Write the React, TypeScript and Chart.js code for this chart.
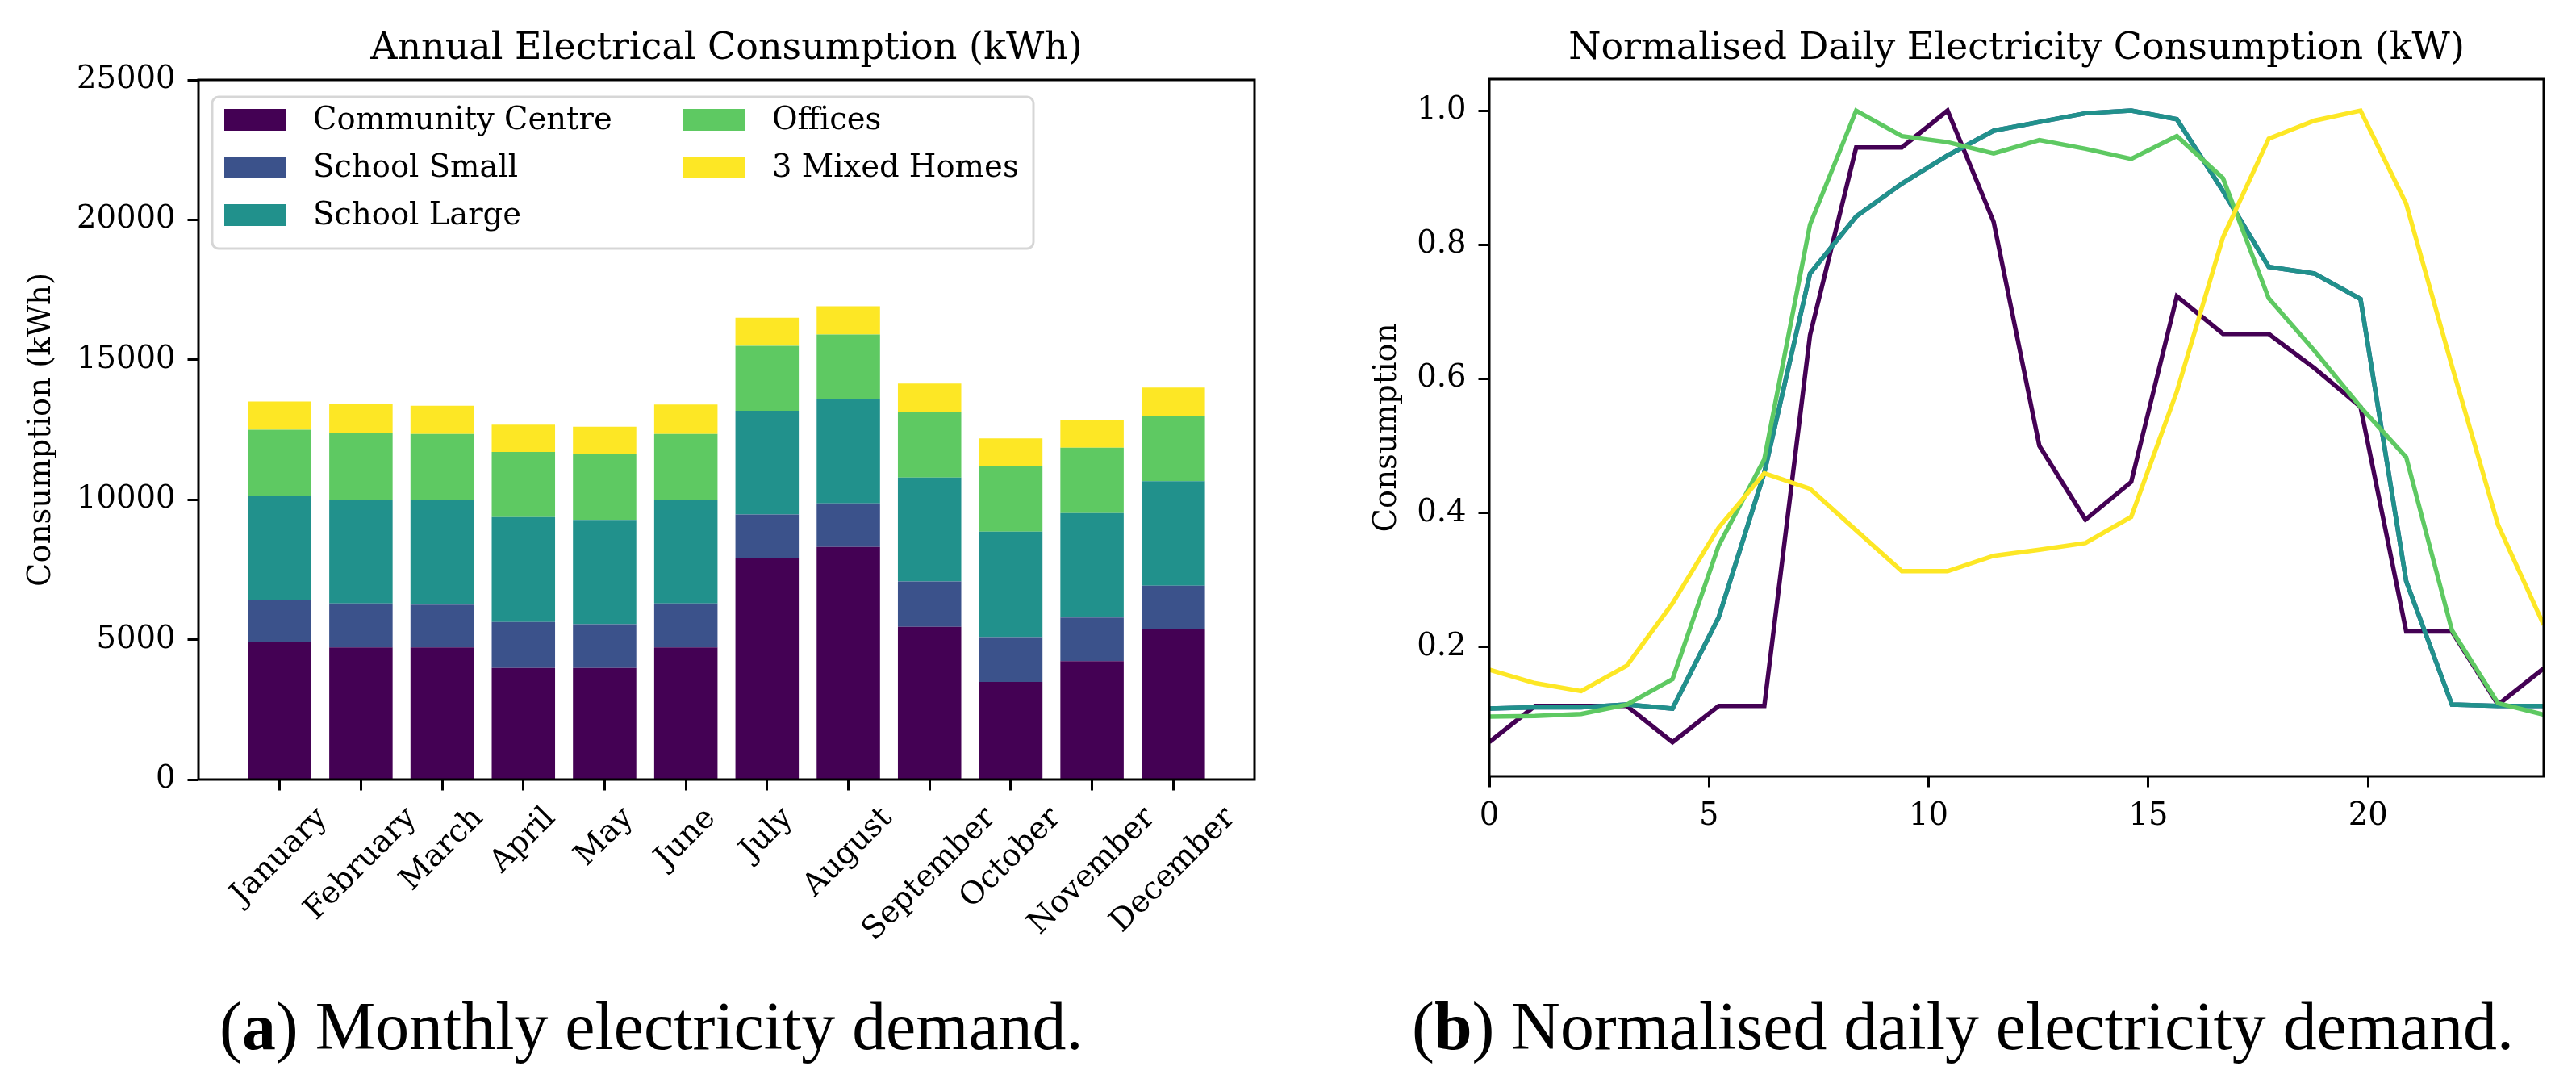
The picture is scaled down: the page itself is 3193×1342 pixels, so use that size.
import React, { useEffect, useRef } from 'react';
import { Chart, registerables } from 'chart.js';

Chart.register(...registerables);

// ---------------- data ----------------
const months = ['January', 'February', 'March', 'April', 'May', 'June', 'July', 'August', 'September', 'October', 'November', 'December'];
const seriesNames = ['Community Centre', 'School Small', 'School Large', 'Offices', '3 Mixed Homes'];
const seriesColors = ['#440154', '#3b528b', '#21918c', '#5ec962', '#fde725'];

const communityCentre = [4900, 4720, 4720, 3990, 3990, 4720, 7900, 8310, 5460, 3490, 4230, 5390];
const schoolSmall = [1530, 1570, 1530, 1640, 1560, 1570, 1570, 1560, 1620, 1600, 1560, 1540];
const schoolLarge = [3720, 3690, 3730, 3750, 3730, 3690, 3710, 3730, 3710, 3770, 3730, 3730];
const offices = [2350, 2390, 2370, 2330, 2360, 2370, 2320, 2300, 2350, 2350, 2340, 2340];
const mixedHomes = [1010, 1050, 1010, 970, 970, 1050, 1000, 1010, 1010, 980, 970, 1010];
const monthlyYTicks = [0, 5000, 10000, 15000, 20000, 25000];

const hours = [0, 1.04, 2.09, 3.13, 4.17, 5.22, 6.26, 7.3, 8.35, 9.39, 10.43, 11.48, 12.52, 13.57, 14.61, 15.65, 16.7, 17.74, 18.78, 19.83, 20.87, 21.91, 22.96, 24];
const dailyCommunity = [0.058, 0.112, 0.112, 0.112, 0.058, 0.112, 0.112, 0.665, 0.945, 0.945, 1.0, 0.834, 0.5, 0.39, 0.446, 0.723, 0.667, 0.667, 0.616, 0.558, 0.223, 0.223, 0.114, 0.168];
const dailySchoolSmall = [0.108, 0.11, 0.11, 0.114, 0.108, 0.244, 0.46, 0.757, 0.842, 0.891, 0.933, 0.97, 0.983, 0.996, 1.0, 0.987, 0.88, 0.767, 0.757, 0.719, 0.298, 0.114, 0.112, 0.112];
const dailySchoolLarge = [0.108, 0.11, 0.11, 0.114, 0.108, 0.244, 0.46, 0.757, 0.842, 0.891, 0.933, 0.97, 0.983, 0.996, 1.0, 0.987, 0.88, 0.767, 0.757, 0.719, 0.298, 0.114, 0.112, 0.112];
const dailyOffices = [0.096, 0.097, 0.1, 0.114, 0.152, 0.351, 0.48, 0.83, 1.0, 0.962, 0.953, 0.936, 0.956, 0.943, 0.928, 0.962, 0.899, 0.72, 0.642, 0.558, 0.483, 0.225, 0.116, 0.099];
const dailyHomes = [0.166, 0.146, 0.134, 0.172, 0.265, 0.378, 0.459, 0.436, 0.374, 0.313, 0.313, 0.336, 0.345, 0.355, 0.394, 0.581, 0.811, 0.958, 0.985, 1.0, 0.861, 0.619, 0.382, 0.233];
const dailyXTicks = [0, 5, 10, 15, 20];
const dailyYTicks = [0.2, 0.4, 0.6, 0.8, 1.0];

// ---------------- style ----------------
const FONT = '"DejaVu Serif", serif';
const TICK = 38.5;
const TITLE = 46;
const CANVAS_H = 1230;

const spinePlugin = {
  id: 'spines',
  afterDraw(chart: any) {
    const { ctx, chartArea: a } = chart;
    ctx.save();
    ctx.strokeStyle = '#000';
    ctx.lineWidth = 3;
    ctx.strokeRect(a.left, a.top, a.right - a.left, a.bottom - a.top);
    ctx.restore();
  },
};

const monthLabelPlugin = {
  id: 'monthLabels',
  afterDraw(chart: any) {
    const { ctx, chartArea: a } = chart;
    const xs = chart.scales.x;
    ctx.save();
    ctx.font = `${TICK}px ${FONT}`;
    ctx.fillStyle = '#000';
    ctx.textAlign = 'center';
    ctx.textBaseline = 'middle';
    months.forEach((m, i) => {
      const px = xs.getPixelForValue(i);
      const w = ctx.measureText(m).width;
      const h = TICK * 1.1;
      const half = ((w + h) * Math.SQRT1_2) / 2;
      ctx.save();
      ctx.translate(px, a.bottom + 27 + half);
      ctx.rotate(-Math.PI / 4);
      ctx.fillText(m, 0, 0);
      ctx.restore();
    });
    ctx.restore();
  },
};

const legendPlugin = {
  id: 'innerLegend',
  afterDraw(chart: any) {
    const { ctx, chartArea: a } = chart;
    const bx = a.left + 17;
    const by = a.top + 21;
    const bw = 1018;
    const bh = 188;
    const r = 8;
    ctx.save();
    ctx.beginPath();
    ctx.moveTo(bx + r, by);
    ctx.lineTo(bx + bw - r, by);
    ctx.arcTo(bx + bw, by, bx + bw, by + r, r);
    ctx.lineTo(bx + bw, by + bh - r);
    ctx.arcTo(bx + bw, by + bh, bx + bw - r, by + bh, r);
    ctx.lineTo(bx + r, by + bh);
    ctx.arcTo(bx, by + bh, bx, by + bh - r, r);
    ctx.lineTo(bx, by + r);
    ctx.arcTo(bx, by, bx + r, by, r);
    ctx.closePath();
    ctx.fillStyle = 'rgba(255,255,255,0.8)';
    ctx.fill();
    ctx.strokeStyle = 'rgba(204,204,204,0.8)';
    ctx.lineWidth = 3;
    ctx.stroke();
    ctx.font = `${TICK}px ${FONT}`;
    ctx.textAlign = 'left';
    ctx.textBaseline = 'middle';
    const colX = [15, 584];
    seriesNames.forEach((name, k) => {
      const col = k < 3 ? 0 : 1;
      const row = k < 3 ? k : k - 3;
      const sx = bx + colX[col];
      const sy = by + 15 + row * 59;
      ctx.fillStyle = seriesColors[k];
      ctx.fillRect(sx, sy, 77, 27);
      ctx.fillStyle = '#000';
      ctx.fillText(name, sx + 110, sy + 15);
    });
    ctx.restore();
  },
};

function MonthlyChart() {
  const ref = useRef<HTMLCanvasElement | null>(null);
  useEffect(() => {
    if (!ref.current) return;
    const values = [communityCentre, schoolSmall, schoolLarge, offices, mixedHomes];
    const chart = new Chart(ref.current, {
      type: 'bar',
      data: {
        datasets: values.map((vals, k) => ({
          label: seriesNames[k],
          data: vals.map((v, i) => ({ x: i, y: v })),
          backgroundColor: seriesColors[k],
          borderWidth: 0,
          categoryPercentage: 1,
          barPercentage: 0.78,
        })),
      },
      options: {
        animation: false,
        responsive: false,
        devicePixelRatio: 1,
        layout: { padding: { left: 0, right: 45, top: 0, bottom: 0 } },
        plugins: {
          legend: { display: false },
          tooltip: { enabled: false },
          title: {
            display: true,
            text: 'Annual Electrical Consumption (kWh)',
            color: '#000',
            font: { family: FONT, size: TITLE, weight: 'normal' },
            padding: { top: 33.7, bottom: 10.1 },
            fullSize: false,
          },
        },
        scales: {
          x: {
            type: 'linear',
            stacked: true,
            min: -1,
            max: 12,
            offset: false,
            afterBuildTicks: (s: any) => {
              s.ticks = months.map((_, i) => ({ value: i }));
            },
            afterFit: (s: any) => {
              s.height = CANVAS_H - 966;
            },
            ticks: { display: false },
            grid: { display: true, offset: false, drawOnChartArea: false, drawTicks: true, tickLength: 13.5, tickWidth: 3, tickColor: '#000' },
            border: { display: false },
          },
          y: {
            type: 'linear',
            stacked: true,
            min: 0,
            max: 25000,
            afterBuildTicks: (s: any) => {
              s.ticks = monthlyYTicks.map((v) => ({ value: v }));
            },
            afterFit: (s: any) => {
              s.width = 246;
            },
            ticks: { color: '#000', font: { family: FONT, size: TICK }, padding: 15, callback: (v: any) => String(v) },
            grid: { display: true, drawOnChartArea: false, drawTicks: true, tickLength: 13.5, tickWidth: 3, tickColor: '#000' },
            border: { display: false },
            title: { display: true, text: 'Consumption (kWh)', color: '#000', font: { family: FONT, size: TICK }, padding: { top: 29, bottom: 0 } },
          },
        },
      } as any,
      plugins: [spinePlugin, monthLabelPlugin, legendPlugin],
    });
    return () => chart.destroy();
  }, []);
  return <canvas ref={ref} width={1600} height={CANVAS_H} style={{ position: 'absolute', left: 0, top: 0 }} />;
}

function DailyChart() {
  const ref = useRef<HTMLCanvasElement | null>(null);
  useEffect(() => {
    if (!ref.current) return;
    const values = [dailyCommunity, dailySchoolSmall, dailySchoolLarge, dailyOffices, dailyHomes];
    const chart = new Chart(ref.current, {
      type: 'line',
      data: {
        datasets: values.map((vals, k) => ({
          label: seriesNames[k],
          data: vals.map((v, i) => ({ x: hours[i], y: v })),
          borderColor: seriesColors[k],
          backgroundColor: seriesColors[k],
          borderWidth: 5.5,
          pointRadius: 0,
          tension: 0,
          fill: false,
          order: values.length - 1 - k,
        })),
      },
      options: {
        animation: false,
        responsive: false,
        devicePixelRatio: 1,
        layout: { padding: { left: 0, right: 40, top: 0, bottom: 0 } },
        plugins: {
          legend: { display: false },
          tooltip: { enabled: false },
          title: {
            display: true,
            text: 'Normalised Daily Electricity Consumption (kW)',
            color: '#000',
            font: { family: FONT, size: TITLE, weight: 'normal' },
            padding: { top: 33.7, bottom: 9.1 },
            fullSize: false,
          },
        },
        scales: {
          x: {
            type: 'linear',
            min: 0,
            max: 24,
            afterBuildTicks: (s: any) => {
              s.ticks = dailyXTicks.map((v) => ({ value: v }));
            },
            afterFit: (s: any) => {
              s.height = CANVAS_H - 962;
            },
            ticks: { color: '#000', font: { family: FONT, size: TICK }, padding: 13.5, maxRotation: 0, callback: (v: any) => String(v) },
            grid: { display: true, drawOnChartArea: false, drawTicks: true, tickLength: 13.5, tickWidth: 3, tickColor: '#000' },
            border: { display: false },
          },
          y: {
            type: 'linear',
            min: 0.007,
            max: 1.047,
            afterBuildTicks: (s: any) => {
              s.ticks = dailyYTicks.map((v) => ({ value: v }));
            },
            afterFit: (s: any) => {
              s.width = 246;
            },
            ticks: { color: '#000', font: { family: FONT, size: TICK }, padding: 15, callback: (v: any) => Number(v).toFixed(1) },
            grid: { display: true, drawOnChartArea: false, drawTicks: true, tickLength: 13.5, tickWidth: 3, tickColor: '#000' },
            border: { display: false },
            title: { display: true, text: 'Consumption', color: '#000', font: { family: FONT, size: TICK }, padding: { top: 97, bottom: 0 } },
          },
        },
      } as any,
      plugins: [spinePlugin],
    });
    return () => chart.destroy();
  }, []);
  return <canvas ref={ref} width={1593} height={CANVAS_H} style={{ position: 'absolute', left: 1600, top: 0 }} />;
}

const captionStyle: React.CSSProperties = {
  position: 'absolute',
  top: 1230,
  fontFamily: '"Liberation Serif", serif',
  fontSize: 83.8,
  lineHeight: 1,
  whiteSpace: 'nowrap',
  color: '#000',
};

export default function App() {
  return (
    <div style={{ position: 'absolute', left: 0, top: 0, width: 3193, height: 1342, background: '#fff', overflow: 'hidden' }}>
      <MonthlyChart />
      <DailyChart />
      <div style={{ ...captionStyle, left: 272 }}>
        (<b>a</b>) Monthly electricity demand.
      </div>
      <div style={{ ...captionStyle, left: 1750 }}>
        (<b>b</b>) Normalised daily electricity demand.
      </div>
    </div>
  );
}
